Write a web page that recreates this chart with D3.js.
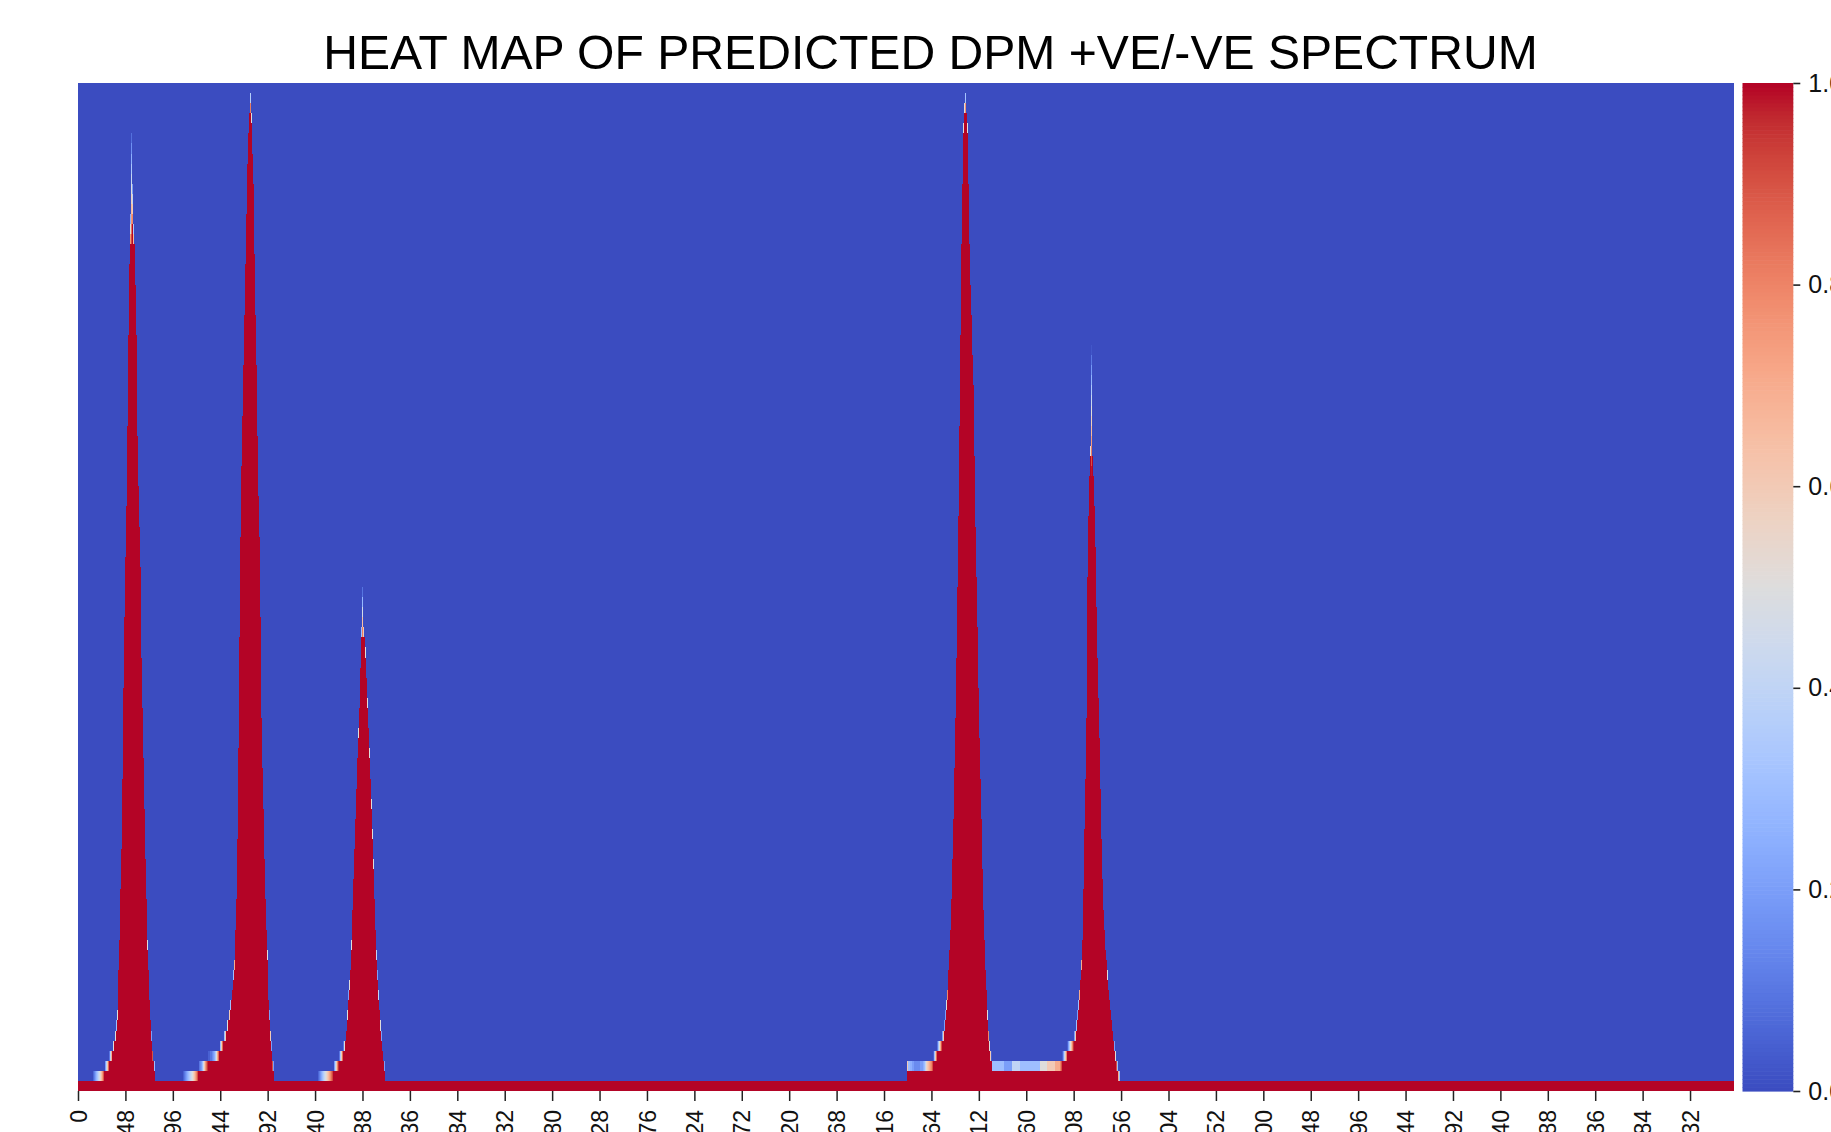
<!DOCTYPE html>
<html>
<head>
<meta charset="utf-8">
<script src="https://cdn.jsdelivr.net/npm/d3@7"></script>
<style>
  body { margin: 0; background: #ffffff; }
  svg { display: block; }
  text { font-family: "Liberation Sans", Arial, sans-serif; }
</style>
</head>
<body>
<svg id="chart" width="1831" height="1132"></svg>
<script>
// ---------------- DATA ----------------
const chartTitle = "HEAT MAP OF PREDICTED DPM +VE/-VE SPECTRUM";
const columnCount = 1676;        // spectrum points (columns)
const rowCount = 100;            // intensity levels (rows)
const baselineHeight = 1;        // every column fills the bottom row

const xTickLabels = [0, 48, 96, 144, 192, 240, 288, 336, 384, 432, 480, 528, 576, 624, 672, 720, 768,
  816, 864, 912, 960, 1008, 1056, 1104, 1152, 1200, 1248, 1296, 1344, 1392, 1440, 1488, 1536, 1584, 1632];
const colorbarTicks = [0.0, 0.2, 0.4, 0.6, 0.8, 1.0];

// filled height (in rows) of each spectrum column
const peak1Start = 15;
const peak1Heights = [1.07, 1.13, 1.2, 1.27, 1.33, 1.4, 1.47, 1.55, 1.65, 1.75, 1.88, 2.0,
  2.2, 2.4, 2.6, 2.85, 3.1, 3.4, 3.7, 4.0, 4.5, 5.0, 5.5, 6.3, 7.5, 9.5, 12, 15, 20, 24, 31, 40,
  47, 53, 58, 66, 75, 82, 87, 95, 90, 86, 84, 80, 75, 65, 60, 56, 52, 43, 38, 33, 28, 23, 19,
  14.5, 12, 9, 7, 5.2, 3.9, 3.0, 2.3];

const peak2Start = 106;
const peak2Heights = [1.05, 1.1, 1.15, 1.2, 1.25, 1.3, 1.35, 1.4, 1.45, 1.5, 1.57, 1.64, 1.72, 1.8,
  1.9, 2.0, 2.05, 2.1, 2.15, 2.2, 2.3, 2.45, 2.6, 2.75, 2.85, 2.95, 3.05, 3.05, 3.1, 3.1, 3.15, 3.2,
  3.25, 3.35, 3.5, 3.7, 3.85, 4.0, 4.3, 4.6, 4.85, 5.0, 5.3, 5.6, 6.0, 6.5, 7.0, 7.6, 8.3, 9.0, 10,
  11.3, 12.7, 16, 19, 25, 34, 45, 55, 62, 67, 72, 77, 82, 87, 92, 95, 97, 98.8, 96.5, 93, 90, 83,
  77, 72, 65, 59, 55, 47, 37, 32, 28, 23, 19, 16, 13.5, 9, 7.2, 5.6, 4.2, 2.9, 2.2];

const peak3Start = 243;
const peak3Heights = [1.06, 1.12, 1.18, 1.24, 1.3, 1.36, 1.42, 1.48, 1.54, 1.6, 1.66, 1.72, 1.78,
  1.85, 1.92, 2.0, 2.2, 2.4, 2.6, 2.8, 2.95, 3.1, 3.35, 3.6, 3.85, 4.1, 4.5, 5.0, 6.0, 7.5, 9.2,
  10.5, 12, 14.5, 18, 21, 24, 27, 30, 33, 35.5, 38, 42, 44, 45.3, 49.5, 45.6, 45, 43.5, 41, 38.5,
  36, 33.5, 31, 28.5, 25.5, 22.5, 19, 16, 13.4, 11.2, 9.4, 8, 6.5, 5.2, 4, 3.0, 2.2];

const peak4Start = 839;
const peak4Heights = [2.6, 2.3, 2.3, 2.25, 2.25, 2.2, 2.2, 2.15, 2.15, 2.15, 2.15, 2.15, 2.15, 2.2,
  2.2, 2.2, 2.25, 2.3, 2.4, 2.5, 2.55, 2.6, 2.65, 2.7, 2.75, 2.8, 2.9, 3.05, 3.3, 3.6, 3.85, 4.1,
  4.3, 4.5, 4.7, 4.9, 5.2, 5.6, 6.2, 7.2, 8.5, 9.8, 12, 14, 16, 19, 23, 27, 32, 37, 43, 50, 57, 66,
  75, 84, 90, 95.5, 97.5, 98.7, 97, 95.5, 90, 84, 80, 77, 73, 70, 63, 56, 51, 46, 40, 35, 31, 27,
  22, 18, 15, 12, 10, 7.5, 5.8, 4.5, 3.6, 3.05];

const shoulderStart = 925;
const shoulderHeights = [2.3, 2.3, 2.3, 2.3, 2.3, 2.3, 2.3, 2.3, 2.3, 2.3, 2.3, 2.3,
  2.2, 2.2, 2.2, 2.2, 2.2, 2.2, 2.2, 2.2, 2.2,
  2.4, 2.4, 2.4, 2.4, 2.4, 2.4, 2.4, 2.4,
  2.3, 2.3, 2.3, 2.3, 2.3, 2.3, 2.3, 2.3, 2.3, 2.3, 2.3, 2.3, 2.3, 2.3, 2.3, 2.3, 2.3, 2.3, 2.3, 2.3,
  2.5, 2.5, 2.5, 2.5, 2.5, 2.5, 2.5,
  2.6, 2.6, 2.6, 2.6, 2.6, 2.6, 2.6, 2.6,
  2.7, 2.7, 2.7, 2.7, 2.7, 2.8, 2.9, 3.05];

const peak5Start = 997;
const peak5Heights = [3.2, 3.4, 3.6, 3.8, 4.05, 4.2, 4.35, 4.5, 4.65, 4.8, 4.95, 5.2, 5.6, 6.3, 7.2,
  8.3, 9.7, 11, 12.7, 15, 20, 26, 31, 37, 44, 51, 57, 61, 63.5, 73.3, 63, 61, 58, 54, 48, 43, 39,
  35, 30, 25, 21, 18, 16, 14, 13, 11.5, 10, 9, 8, 7, 6, 5, 4.2, 3.5, 2.9, 2.3, 1.7, 1.3];

// faint tips: [column, number of rows over which the top fades]
const tipSoftness = [[53, 4], [54, 12], [55, 5], [56, 3], [174, 2.2], [288, 5.5], [898, 2.2], [1026, 12.5]];

// matplotlib "coolwarm" colour stops
const coolwarmStops = [[59,76,192],[68,90,204],[77,104,215],[87,117,225],[98,130,234],[108,142,241],
  [119,154,247],[130,165,251],[141,176,254],[152,185,255],[163,194,255],[174,201,253],[184,208,249],
  [194,213,244],[204,217,238],[213,219,230],[221,221,221],[229,216,209],[236,211,197],[241,204,184],
  [245,196,172],[247,187,160],[247,177,148],[247,166,135],[244,154,123],[241,141,111],[236,127,99],
  [229,112,88],[222,96,77],[213,80,66],[203,62,56],[192,40,47],[180,4,38]];

// ---------------- BUILD ----------------
const heights = new Array(columnCount).fill(baselineHeight);
const softness = new Array(columnCount).fill(1);
[[peak1Start, peak1Heights], [peak2Start, peak2Heights], [peak3Start, peak3Heights],
 [peak4Start, peak4Heights], [shoulderStart, shoulderHeights], [peak5Start, peak5Heights]]
  .forEach(([start, arr]) => arr.forEach((h, i) => { heights[start + i] = h; }));
tipSoftness.forEach(([c, s]) => { softness[c] = s; });

const cellValue = (level, c) => Math.max(0, Math.min(1, (heights[c] - level) / softness[c]));

const color = d3.scaleLinear()
  .domain(coolwarmStops.map((_, i) => i / (coolwarmStops.length - 1)))
  .range(coolwarmStops.map(c => `rgb(${c[0]},${c[1]},${c[2]})`))
  .interpolate(d3.interpolateRgb)
  .clamp(true);
const lutSize = 256;
const lut = d3.range(lutSize).map(i => color(i / (lutSize - 1)));
const lutIndex = v => Math.min(lutSize - 1, Math.floor(v * lutSize));

// ---------------- LAYOUT ----------------
const svg = d3.select("#chart");
const hm = { left: 78, right: 1733.5, top: 83, bottom: 1091 };
const cb = { left: 1742.5, right: 1793.3 };

const x = d3.scaleBand().domain(d3.range(columnCount)).range([hm.left, hm.right]).paddingInner(0).paddingOuter(0);
const xPos = d3.scaleLinear().domain([0, columnCount]).range([hm.left, hm.right]);
const y = d3.scaleLinear().domain([0, rowCount]).range([hm.bottom, hm.top]);

// background cells (value 0)
const heat = svg.append("g").attr("shape-rendering", "crispEdges");
heat.append("rect")
  .attr("x", xPos(0)).attr("y", y(rowCount))
  .attr("width", xPos(columnCount) - xPos(0)).attr("height", y(0) - y(rowCount))
  .attr("fill", lut[0]);

// non-zero cells, merged into runs of equal colour per row
const runs = [];
for (let level = 0; level < rowCount; level++) {
  let c = 0;
  while (c < columnCount) {
    const idx = lutIndex(cellValue(level, c));
    let e = c;
    while (e + 1 < columnCount && lutIndex(cellValue(level, e + 1)) === idx) e++;
    if (idx > 0) runs.push({ level, c0: c, c1: e + 1, idx });
    c = e + 1;
  }
}
heat.selectAll("rect.cell").data(runs).join("rect")
  .attr("class", "cell")
  .attr("x", d => xPos(d.c0))
  .attr("width", d => xPos(d.c1) - xPos(d.c0))
  .attr("y", d => y(d.level + 1))
  .attr("height", d => y(d.level) - y(d.level + 1))
  .attr("fill", d => lut[d.idx]);

// x axis
const xAxis = d3.axisBottom(x).tickValues(xTickLabels).tickSize(10).tickSizeOuter(0);
const gx = svg.append("g").attr("transform", `translate(0,${hm.bottom})`).call(xAxis);
gx.select(".domain").remove();
gx.selectAll(".tick line").attr("stroke", "#222").attr("stroke-width", 1.5);
gx.selectAll(".tick text")
  .attr("transform", "rotate(-90)")
  .attr("x", -19).attr("y", 0).attr("dy", "0.35em")
  .attr("text-anchor", "end")
  .attr("font-size", 23).attr("fill", "#111");

// colour bar
const cbScale = d3.scaleLinear().domain([0, 1]).range([hm.bottom, hm.top]);
svg.append("g").selectAll("rect").data(d3.range(lutSize)).join("rect")
  .attr("x", cb.left).attr("width", cb.right - cb.left)
  .attr("y", i => cbScale((i + 1) / lutSize))
  .attr("height", i => cbScale(i / lutSize) - cbScale((i + 1) / lutSize) + 0.6)
  .attr("fill", i => lut[i]);
const cbAxis = d3.axisRight(cbScale).tickValues(colorbarTicks).tickFormat(d3.format(".1f")).tickSize(7).tickPadding(8);
const gcb = svg.append("g").attr("transform", `translate(${cb.right},0)`).call(cbAxis);
gcb.select(".domain").remove();
gcb.selectAll(".tick line").attr("stroke", "#222").attr("stroke-width", 1.6);
gcb.selectAll(".tick text").attr("font-size", 25).attr("fill", "#111");

// title
svg.append("text")
  .attr("x", 930.5).attr("y", 69)
  .attr("text-anchor", "middle")
  .attr("font-size", 48.1)
  .attr("fill", "#000")
  .text(chartTitle);
</script>
</body>
</html>
